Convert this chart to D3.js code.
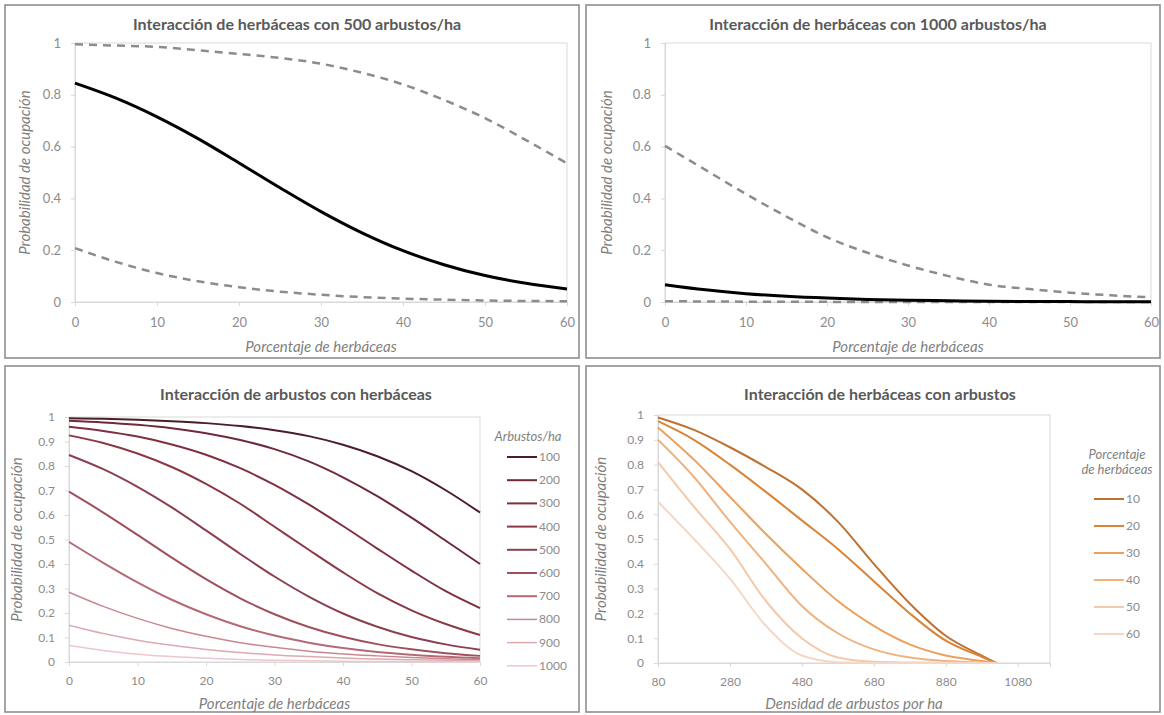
<!DOCTYPE html>
<html>
<head>
<meta charset="utf-8">
<script src="https://cdn.jsdelivr.net/npm/d3@7"></script>
<style>
  body { margin: 0; background: #fff; }
  text { font-family: Lato, "Open Sans", sans-serif; }
</style>
</head>
<body>
<div id="chart"></div>
<script>
// ---- data ----
const herbPct = [0, 5, 10, 15, 20, 25, 30, 35, 40, 45, 50, 55, 60];

// panel 1: 500 shrubs/ha, mean and limits
const p500Upper = [0.995, 0.99, 0.985, 0.972, 0.958, 0.942, 0.92, 0.885, 0.84, 0.78, 0.71, 0.625, 0.535];
const p500Mean  = [0.845, 0.787, 0.715, 0.631, 0.537, 0.441, 0.349, 0.267, 0.198, 0.144, 0.102, 0.072, 0.05];
const p500Lower = [0.208, 0.155, 0.112, 0.08, 0.057, 0.04, 0.028, 0.019, 0.013, 0.009, 0.006, 0.004, 0.003];

// panel 2: 1000 shrubs/ha
const p1000Upper = [0.603, 0.51, 0.417, 0.33, 0.25, 0.19, 0.141, 0.1, 0.067, 0.05, 0.036, 0.026, 0.018];
const p1000Mean  = [0.067, 0.047, 0.032, 0.022, 0.015, 0.01, 0.007, 0.005, 0.003, 0.002, 0.0015, 0.001, 0.0007];
const p1000Lower = [0.003, 0.002, 0.0013, 0.0008, 0.0005, 0.0003, 0.0002, 0.0001, 0.0001, 0, 0, 0, 0];

// panel 3: one curve per shrub density
const shrubLevels = ["100", "200", "300", "400", "500", "600", "700", "800", "900", "1000"];
const shrub100  = [0.995, 0.9925, 0.989, 0.983, 0.975, 0.963, 0.946, 0.922, 0.887, 0.84, 0.779, 0.701, 0.61];
const shrub200  = [0.985, 0.978, 0.968, 0.954, 0.934, 0.906, 0.869, 0.819, 0.754, 0.677, 0.589, 0.495, 0.4];
const shrub300  = [0.96, 0.943, 0.92, 0.888, 0.846, 0.791, 0.723, 0.643, 0.555, 0.463, 0.373, 0.289, 0.22];
const shrub400  = [0.925, 0.894, 0.851, 0.796, 0.727, 0.646, 0.552, 0.458, 0.366, 0.281, 0.211, 0.155, 0.11];
const shrub500  = [0.845, 0.787, 0.715, 0.631, 0.537, 0.441, 0.349, 0.267, 0.198, 0.144, 0.102, 0.072, 0.05];
const shrub600  = [0.695, 0.61, 0.519, 0.426, 0.338, 0.26, 0.195, 0.143, 0.103, 0.073, 0.052, 0.036, 0.025];
const shrub700  = [0.49, 0.405, 0.325, 0.254, 0.195, 0.146, 0.108, 0.079, 0.057, 0.041, 0.03, 0.021, 0.015];
const shrub800  = [0.285, 0.227, 0.178, 0.137, 0.105, 0.079, 0.06, 0.044, 0.033, 0.025, 0.018, 0.013, 0.01];
const shrub900  = [0.15, 0.116, 0.089, 0.068, 0.051, 0.039, 0.029, 0.022, 0.016, 0.012, 0.009, 0.007, 0.005];
const shrub1000 = [0.067, 0.047, 0.032, 0.022, 0.015, 0.01, 0.007, 0.005, 0.003, 0.002, 0.0015, 0.001, 0.0007];

// panel 4: one curve per herbaceous percentage
const densityX = [80, 180, 280, 380, 480, 580, 680, 780, 880, 980, 1020];
const herbLevels = ["10", "20", "30", "40", "50", "60"];
const herb10 = [0.99, 0.94, 0.87, 0.79, 0.7, 0.57, 0.4, 0.24, 0.11, 0.03, 0];
const herb20 = [0.975, 0.9, 0.8, 0.69, 0.575, 0.46, 0.33, 0.2, 0.09, 0.025, 0];
const herb30 = [0.95, 0.82, 0.67, 0.52, 0.38, 0.25, 0.15, 0.075, 0.03, 0.008, 0];
const herb40 = [0.9, 0.75, 0.57, 0.4, 0.23, 0.12, 0.055, 0.022, 0.008, 0.002, 0];
const herb50 = [0.81, 0.63, 0.46, 0.25, 0.1, 0.022, 0.005, 0.002, 0.001, 0, 0];
const herb60 = [0.65, 0.5, 0.34, 0.15, 0.03, 0.003, 0, 0, 0, 0, 0];

// tick labels
const probTicksCoarse = [0, 0.2, 0.4, 0.6, 0.8, 1];
const probTicksFine = [0, 0.1, 0.2, 0.3, 0.4, 0.5, 0.6, 0.7, 0.8, 0.9, 1];
const herbTicks = [0, 10, 20, 30, 40, 50, 60];
const densityTicks = [80, 280, 480, 680, 880, 1080];

// ---- drawing ----
const W = 1164, H = 715;
const svg = d3.select("#chart").append("svg").attr("width", W).attr("height", H);
const tickColor = "#8c8c8c", titleColor = "#595959", frameColor = "#d9d9d9";

function drawPanel(cfg) {
    let g = svg.append("g");
    g.append("rect").attr("x", cfg.box[0]).attr("y", cfg.box[1])
        .attr("width", cfg.box[2] - cfg.box[0]).attr("height", cfg.box[3] - cfg.box[1])
        .attr("fill", "#fff").attr("stroke", "#8f8f8f").attr("stroke-width", 1.6);

    let x = d3.scaleLinear().domain(cfg.xDomain).range([cfg.left, cfg.right]);
    let y = d3.scaleLinear().domain([0, 1]).range([cfg.bottom, cfg.top]);

    // plot frame
    g.append("rect").attr("x", cfg.left).attr("y", cfg.top)
        .attr("width", cfg.right - cfg.left).attr("height", cfg.bottom - cfg.top)
        .attr("fill", "none").attr("stroke", frameColor).attr("stroke-width", 1);

    let xAxis = g.append("g").attr("transform", `translate(0,${cfg.bottom})`)
        .call(d3.axisBottom(x).tickValues(cfg.xTicks).tickSize(4).tickPadding(cfg.xPad).tickFormat(d => String(d)));
    let yAxis = g.append("g").attr("transform", `translate(${cfg.left},0)`)
        .call(d3.axisLeft(y).tickValues(cfg.yTicks).tickSize(4).tickPadding(cfg.yPad).tickFormat(d => String(d)));
    [xAxis, yAxis].forEach(a => {
        a.select(".domain").attr("stroke", frameColor);
        a.selectAll(".tick line").attr("stroke", frameColor);
        a.selectAll(".tick text").attr("fill", tickColor).attr("font-size", cfg.tickSize)
            .style("font-family", "Lato, sans-serif");
    });

    g.append("text").attr("x", cfg.titleX).attr("y", cfg.titleY)
        .attr("text-anchor", "middle").attr("fill", titleColor)
        .attr("font-size", 16).attr("font-weight", "bold").text(cfg.title);
    g.append("text").attr("x", (cfg.left + cfg.right) / 2).attr("y", cfg.xTitleY)
        .attr("text-anchor", "middle").attr("fill", "#7f7f7f").attr("font-style", "italic")
        .attr("font-size", 15).text(cfg.xTitle);
    g.append("text").attr("transform", `translate(${cfg.yTitleX},${(cfg.top + cfg.bottom) / 2}) rotate(-90)`)
        .attr("text-anchor", "middle").attr("fill", "#7f7f7f").attr("font-style", "italic")
        .attr("font-size", 15).text("Probabilidad de ocupación");

    let line = d3.line().curve(d3.curveMonotoneX)
        .x(d => x(d[0])).y(d => y(d[1]));
    cfg.series.forEach(s => {
        g.append("path").datum(cfg.xs.map((v, i) => [v, s.values[i]]))
            .attr("d", line).attr("fill", "none")
            .attr("stroke", s.color).attr("stroke-width", s.width)
            .attr("stroke-dasharray", s.dash || null);
    });

    if (cfg.legend) {
        let L = cfg.legend;
        L.title.forEach((t, i) => {
            g.append("text").attr("x", L.titleX).attr("y", L.titleY + i * 15)
                .attr("text-anchor", "middle").attr("fill", "#7f7f7f").attr("font-style", "italic")
                .attr("font-size", 13).text(t);
        });
        cfg.series.forEach((s, i) => {
            let yy = L.y0 + i * L.step;
            g.append("line").attr("x1", L.x1).attr("x2", L.x2).attr("y1", yy).attr("y2", yy)
                .attr("stroke", s.color).attr("stroke-width", s.width);
            g.append("text").attr("x", L.x2 + 2).attr("y", yy + 4)
                .attr("fill", tickColor).attr("font-size", 12).text(s.name);
        });
    }
}

drawPanel({
    box: [5, 5, 579, 358], left: 75, right: 567, top: 43, bottom: 302,
    xDomain: [0, 60], xTicks: herbTicks, yTicks: probTicksCoarse, xs: herbPct,
    xPad: 12, yPad: 10, tickSize: 13,
    title: "Interacción de herbáceas con 500 arbustos/ha", titleX: 297, titleY: 30,
    xTitle: "Porcentaje de herbáceas", xTitleY: 352, yTitleX: 30,
    series: [
        { values: p500Upper, color: "#8c8c8c", width: 2.5, dash: "8,6" },
        { values: p500Lower, color: "#8c8c8c", width: 2.5, dash: "8,6" },
        { values: p500Mean, color: "#000", width: 3 }
    ]
});

drawPanel({
    box: [586, 5, 1160, 358], left: 665, right: 1151, top: 43, bottom: 302,
    xDomain: [0, 60], xTicks: herbTicks, yTicks: probTicksCoarse, xs: herbPct,
    xPad: 12, yPad: 10, tickSize: 13,
    title: "Interacción de herbáceas con 1000 arbustos/ha", titleX: 878, titleY: 30,
    xTitle: "Porcentaje de herbáceas", xTitleY: 352, yTitleX: 612,
    series: [
        { values: p1000Upper, color: "#8c8c8c", width: 2.5, dash: "8,6" },
        { values: p1000Lower, color: "#8c8c8c", width: 2.5, dash: "8,6" },
        { values: p1000Mean, color: "#000", width: 3 }
    ]
});

const shrubColors = ["#4a1e28", "#6e2a38", "#7e3040", "#8c3844", "#8a4050", "#a0505c", "#b46a74", "#c88890", "#dcaab0", "#ebc8cb"];
const shrubSeries = [shrub100, shrub200, shrub300, shrub400, shrub500, shrub600, shrub700, shrub800, shrub900, shrub1000];
drawPanel({
    box: [5, 366, 579, 712], left: 69, right: 480, top: 417, bottom: 662,
    xDomain: [0, 60], xTicks: herbTicks, yTicks: probTicksFine, xs: herbPct,
    xPad: 10, yPad: 10, tickSize: 12,
    title: "Interacción de arbustos con herbáceas", titleX: 296, titleY: 400,
    xTitle: "Porcentaje de herbáceas", xTitleY: 709, yTitleX: 22,
    series: shrubSeries.map((v, i) => ({ values: v, color: shrubColors[i], width: i < 7 ? 2 : 1.5, name: shrubLevels[i] })),
    legend: { title: ["Arbustos/ha"], titleX: 528, titleY: 441, x1: 507, x2: 537, y0: 457, step: 23.2 }
});

const herbColors = ["#c0712f", "#d98436", "#eda05a", "#f0b27e", "#f4c9a9", "#f3d8c8"];
const herbSeries = [herb10, herb20, herb30, herb40, herb50, herb60];
drawPanel({
    box: [586, 366, 1160, 712], left: 658, right: 1050, top: 415, bottom: 663,
    xDomain: [80, 1170], xTicks: densityTicks, yTicks: probTicksFine, xs: densityX,
    xPad: 10, yPad: 10, tickSize: 12,
    title: "Interacción de herbáceas con arbustos", titleX: 880, titleY: 400,
    xTitle: "Densidad de arbustos por ha", xTitleY: 709, yTitleX: 606,
    series: herbSeries.map((v, i) => ({ values: v, color: herbColors[i], width: 2, name: herbLevels[i] })),
    legend: { title: ["Porcentaje", "de herbáceas"], titleX: 1117, titleY: 459, x1: 1094, x2: 1124, y0: 499, step: 27 }
});
</script>
</body>
</html>
